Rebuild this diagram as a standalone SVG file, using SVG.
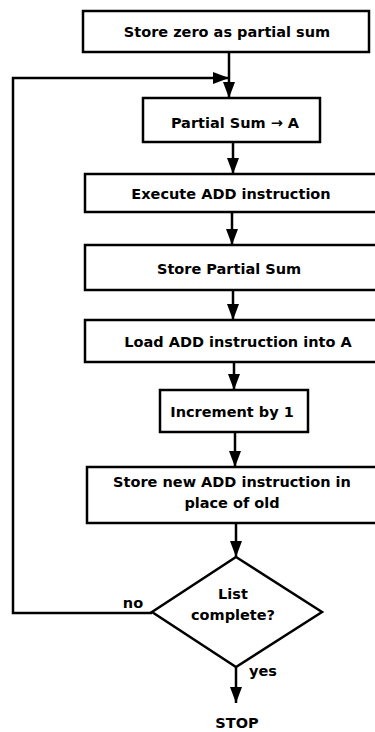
<svg xmlns="http://www.w3.org/2000/svg" width="375" height="732" viewBox="0 0 375 732">
<defs>
<style>
.box{fill:#fff;stroke:#000;stroke-width:2.5}
.t{font-family:"DejaVu Sans","Liberation Sans",sans-serif;font-weight:bold;font-size:14.5px;fill:#000;text-anchor:middle}
.c{fill:none;stroke:#000;stroke-width:2.5;marker-end:url(#ah)}
</style>
<marker id="ah" markerUnits="userSpaceOnUse" markerWidth="16" markerHeight="12" refX="16" refY="6" orient="auto">
<path d="M0,0 L16,6 L0,12 z" fill="#000"/>
</marker>
</defs>
<rect width="375" height="732" fill="#fff"/>
<g id="connectors">
<line class="c" x1="229" y1="52" x2="229" y2="98"/>
<polyline class="c" points="152,613 13,613 13,78 229,78"/>
<line class="c" x1="233" y1="142" x2="233" y2="174"/>
<line class="c" x1="232" y1="212" x2="232" y2="245"/>
<line class="c" x1="233" y1="290" x2="233" y2="320"/>
<line class="c" x1="234" y1="362" x2="234" y2="390"/>
<line class="c" x1="235" y1="432" x2="235" y2="467"/>
<line class="c" x1="236" y1="523" x2="236" y2="557"/>
<line class="c" x1="236" y1="667" x2="236" y2="703"/>
<text class="t" x="133" y="608">no</text>
<text class="t" x="263" y="676">yes</text>
</g>
<g id="n1"><rect class="box" x="83" y="11" width="286" height="41"/><text class="t" x="227" y="37">Store zero as partial sum</text></g>
<g id="n2"><rect class="box" x="143" y="98" width="177" height="44"/><text class="t" x="235" y="128">Partial Sum → A</text></g>
<g id="n3"><rect class="box" x="85" y="174" width="300" height="38"/><text class="t" x="231" y="199">Execute ADD instruction</text></g>
<g id="n4"><rect class="box" x="85" y="245" width="300" height="45"/><text class="t" x="229" y="274">Store Partial Sum</text></g>
<g id="n5"><rect class="box" x="85" y="320" width="300" height="42"/><text class="t" x="238" y="347">Load ADD instruction into A</text></g>
<g id="n6"><rect class="box" x="160" y="390" width="148" height="42"/><text class="t" x="232" y="417">Increment by 1</text></g>
<g id="n7"><rect class="box" x="87" y="467" width="300" height="56"/><text class="t" x="232" y="487">Store new ADD instruction in</text><text class="t" x="232" y="508">place of old</text></g>
<g id="n8"><polygon class="box" points="236,557 322,612 236,667 152,612"/><text class="t" x="233" y="599">List</text><text class="t" x="233" y="620">complete?</text></g>
<g id="n9"><text class="t" x="237" y="728">STOP</text></g>
</svg>
